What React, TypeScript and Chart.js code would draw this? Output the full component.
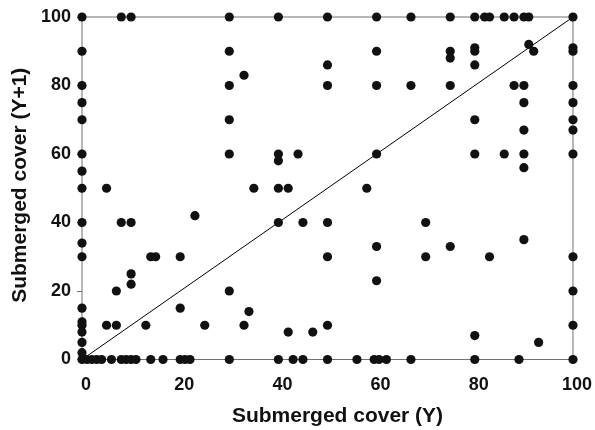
import React, { useEffect, useRef } from "react";
import { Chart, registerables } from "chart.js";

Chart.register(...registerables);

const tickValues = [0, 20, 40, 60, 80, 100];
const xTitle = "Submerged cover (Y)";
const yTitle = "Submerged cover (Y+1)";

// Points with Y = 0 (left edge): their Y+1 values
const leftEdgeY1 = [100, 90, 80, 75, 70, 60, 55, 50, 40, 34, 30, 15, 11, 10, 8, 5, 2, 0];
// Points with Y+1 = 100 (top edge): their Y values
const topEdgeY = [8, 10, 30, 40, 50, 60, 67, 75, 80, 82, 83, 86, 88, 90, 91, 100];
// Points with Y = 100 (right edge): their Y+1 values
const rightEdgeY1 = [91, 90, 80, 75, 70, 67, 60, 30, 20, 10, 0];
// Points with Y+1 = 0 (bottom edge): their Y values
const bottomEdgeY = [1, 2, 3, 4, 6, 8, 9, 10, 11, 14, 16.5, 20, 21, 22, 30, 40, 43, 45, 50, 56, 59.5, 60.5, 62, 67, 80, 89];
// Interior points: Y and Y+1
const interiorY = [30, 30, 30, 30, 33, 50, 50, 60, 60, 40, 40, 44, 60, 35, 40, 42, 58, 5, 75, 75, 80, 80, 80, 91, 92, 67, 75, 88, 90, 90, 80, 90, 80, 86, 90, 90, 8, 10, 23, 14, 15, 20, 10, 10, 7, 30, 20, 5, 7, 13, 25, 33, 40, 45, 50, 60, 50, 60, 34, 42, 47, 50, 70, 75, 70, 83, 90, 80, 93];
const interiorY1 = [90, 80, 70, 60, 83, 86, 80, 90, 80, 60, 58, 60, 60, 50, 50, 50, 50, 50, 90, 88, 91, 90, 86, 92, 90, 80, 80, 80, 80, 75, 70, 67, 60, 60, 60, 56, 40, 40, 42, 30, 30, 30, 25, 22, 20, 20, 15, 10, 10, 10, 10, 10, 40, 40, 40, 33, 30, 23, 14, 8, 8, 10, 40, 33, 30, 30, 35, 7, 5];
// 1:1 reference line
const lineX = [0, 100];
const lineY = [0, 100];

const FONT = "'Liberation Sans', Arial, Helvetica, sans-serif";

export default function App() {
  const ref = useRef<HTMLCanvasElement | null>(null);

  useEffect(() => {
    if (!ref.current) return;
    const points: { x: number; y: number }[] = [];
    leftEdgeY1.forEach((v) => points.push({ x: 0, y: v }));
    topEdgeY.forEach((v) => points.push({ x: v, y: 100 }));
    rightEdgeY1.forEach((v) => points.push({ x: 100, y: v }));
    bottomEdgeY.forEach((v) => points.push({ x: v, y: 0 }));
    interiorY.forEach((v, i) => points.push({ x: v, y: interiorY1[i] }));

    const framePlugin = {
      id: "frame",
      beforeDatasetsDraw(chart: any) {
        const { ctx, chartArea } = chart;
        ctx.save();
        ctx.strokeStyle = "#707070";
        ctx.lineWidth = 1;
        ctx.strokeRect(chartArea.left, chartArea.top, chartArea.right - chartArea.left, chartArea.bottom - chartArea.top);
        ctx.restore();
      },
      afterDraw(chart: any) {
        const { ctx, chartArea } = chart;
        const { left, right, top, bottom } = chartArea;
        ctx.save();
        ctx.fillStyle = "#111";
        ctx.font = `bold 21px ${FONT}`;
        ctx.textAlign = "center";
        ctx.textBaseline = "middle";
        ctx.fillText(xTitle, (left + right) / 2 + 10, bottom + 56.5);
        ctx.translate(left - 61.5, (top + bottom) / 2 - 3);
        ctx.rotate(-Math.PI / 2);
        ctx.fillText(yTitle, 0, 0);
        ctx.restore();
      },
    };

    const chart = new Chart(ref.current, {
      type: "scatter",
      data: {
        datasets: [
          {
            type: "line",
            data: lineX.map((x, i) => ({ x, y: lineY[i] })),
            borderColor: "#000",
            borderWidth: 1,
            pointRadius: 0,
            fill: false,
            order: 2,
          } as any,
          {
            data: points,
            backgroundColor: "#111",
            borderColor: "#111",
            borderWidth: 0,
            pointRadius: 4.6,
            clip: false,
            order: 1,
          } as any,
        ],
      },
      options: {
        animation: false,
        responsive: false,
        devicePixelRatio: 1,
        layout: { padding: { top: 17, right: 18, bottom: 0, left: 0 } },
        plugins: { legend: { display: false }, tooltip: { enabled: false } },
        scales: {
          x: {
            type: "linear",
            min: 0,
            max: 100,
            afterBuildTicks: (s: any) => {
              s.ticks = tickValues.map((v) => ({ value: v }));
            },
            afterFit: (s: any) => {
              s.height = 70.5;
            },
            grid: { display: false },
            border: { display: false },
            ticks: { color: "#111", padding: 7, labelOffset: 4, font: { family: FONT, size: 18, weight: "bold" } },
            title: { display: false },
          },
          y: {
            type: "linear",
            min: 0,
            max: 100,
            afterBuildTicks: (s: any) => {
              s.ticks = tickValues.map((v) => ({ value: v }));
            },
            afterFit: (s: any) => {
              s.width = 82;
            },
            grid: { drawOnChartArea: false, drawTicks: true, tickLength: 5, color: "#707070" },
            border: { display: false },
            ticks: { color: "#111", padding: 6, font: { family: FONT, size: 18, weight: "bold" } },
            title: { display: false },
          },
        },
      },
      plugins: [framePlugin],
    } as any);
    return () => chart.destroy();
  }, []);

  return (
    <div style={{ position: "fixed", left: 0, top: 0, width: 595, height: 430, background: "#fff" }}>
      <canvas ref={ref} width={595} height={430} style={{ width: 595, height: 430, display: "block" }} />
    </div>
  );
}
